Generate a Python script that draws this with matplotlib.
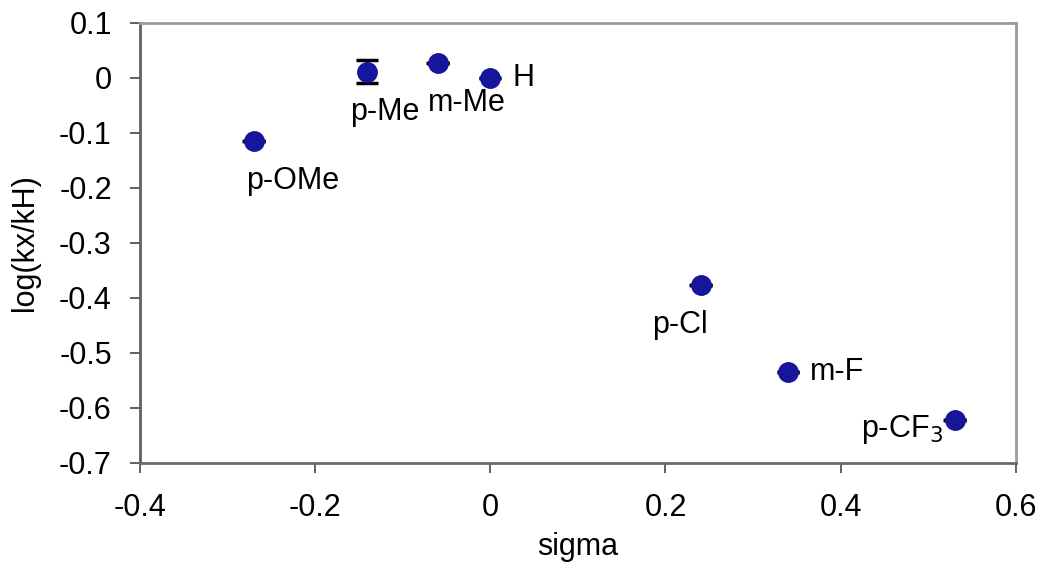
import matplotlib.pyplot as plt

plt.rcParams['font.family'] = ['Liberation Sans', 'DejaVu Sans']

# Hammett data
substituents = ["p-OMe", "p-Me", "m-Me", "H", "p-Cl", "m-F", "p-CF$_3$"]
sigma = [-0.27, -0.14, -0.06, 0.0, 0.24, 0.34, 0.53]
log_ratio = [-0.114, 0.011, 0.027, 0.0, -0.377, -0.534, -0.622]
y_err = [0.0, 0.021, 0.0, 0.0, 0.0, 0.0, 0.0]
x_err = [0.013, 0.0, 0.013, 0.0, 0.013, 0.012, 0.013]

# label offsets in pixels (dx, dy) and alignment
label_pos = [(-7, -40, "left"), (-17, -40, "left"), (-10, -40, "left"),
             (22, 0, "left"), (-48, -40, "left"), (22, 0, "left"),
             (-12, -10, "right")]

fig, ax = plt.subplots(figsize=(10.5, 5.7), dpi=100)
fig.subplots_adjust(left=0.133, right=0.9676, top=0.96, bottom=0.188)

# thin horizontal error bars barely poking out of the markers
ax.errorbar(sigma, log_ratio, xerr=x_err, fmt="none", ecolor="black",
            elinewidth=2.5, capsize=0, zorder=2)
ax.errorbar(sigma, log_ratio, yerr=y_err, fmt="o", color="#16169c",
            markersize=14, ecolor="black", elinewidth=2, capsize=8, capthick=2.5,
            zorder=3)

for name, x, y, (dx, dy, ha) in zip(substituents, sigma, log_ratio, label_pos):
    ax.annotate(name, (x, y), xytext=(dx, dy), textcoords="offset pixels",
                ha=ha, va="center", fontsize=22)

ax.set_xlim(-0.4, 0.6)
ax.set_ylim(-0.7, 0.1)
ax.set_xticks([-0.4, -0.2, 0, 0.2, 0.4, 0.6])
ax.set_xticklabels(["-0.4", "-0.2", "0", "0.2", "0.4", "0.6"])
ax.set_yticks([0.1, 0, -0.1, -0.2, -0.3, -0.4, -0.5, -0.6, -0.7])
ax.set_yticklabels(["0.1", "0", "-0.1", "-0.2", "-0.3", "-0.4", "-0.5", "-0.6", "-0.7"])
ax.tick_params(labelsize=22, length=7, width=1.3, color="#555555", direction="out")
ax.tick_params(axis="x", pad=15)
ax.tick_params(axis="y", pad=13)

for side in ax.spines.values():
    side.set_color("#9a9a9a")
    side.set_linewidth(2)
ax.spines["left"].set_color("#606060")
ax.spines["bottom"].set_color("#6a6a6a")

ax.set_xlabel("sigma", fontsize=22, labelpad=6)
ax.set_ylabel("log(kx/kH)", fontsize=22, labelpad=14)

fig.savefig("out.png", dpi=100)
